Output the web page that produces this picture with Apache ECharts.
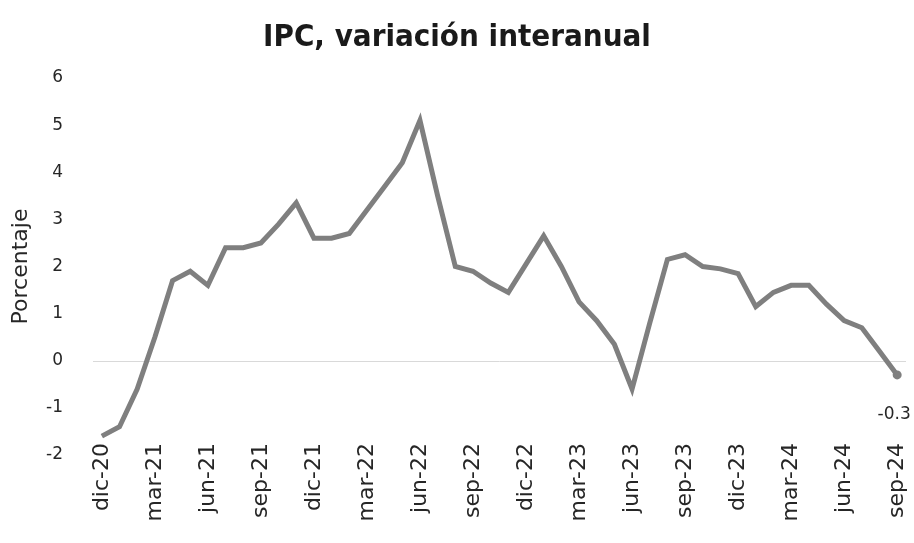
<!DOCTYPE html>
<html>
<head>
<meta charset="utf-8">
<script src="https://cdn.jsdelivr.net/npm/echarts@6/dist/echarts.min.js"></script>
<style>html,body{margin:0;padding:0;background:#fff;}#c{width:914px;height:543px;}</style>
</head>
<body>
<div id="c"></div>
<script>
var categories = ['dic-20','ene-21','feb-21','mar-21','abr-21','may-21','jun-21','jul-21','ago-21','sep-21','oct-21','nov-21',
  'dic-21','ene-22','feb-22','mar-22','abr-22','may-22','jun-22','jul-22','ago-22','sep-22','oct-22','nov-22',
  'dic-22','ene-23','feb-23','mar-23','abr-23','may-23','jun-23','jul-23','ago-23','sep-23','oct-23','nov-23',
  'dic-23','ene-24','feb-24','mar-24','abr-24','may-24','jun-24','jul-24','ago-24','sep-24'];
var ipcValues = [-1.6,-1.4,-0.6,0.5,1.7,1.9,1.6,2.4,2.4,2.5,2.9,3.35,
  2.6,2.6,2.7,3.2,3.7,4.2,5.1,3.5,2.0,1.9,1.65,1.45,
  2.05,2.65,2.0,1.25,0.85,0.35,-0.6,0.8,2.15,2.25,2.0,1.95,
  1.85,1.15,1.45,1.6,1.6,1.2,0.85,0.7,0.2,-0.3];
var yTicks = [-2,-1,0,1,2,3,4,5,6];
var titleText = 'IPC, variación interanual';
var yName = 'Porcentaje';

var lastIdx = ipcValues.length - 1;
var seriesData = ipcValues.map(function (v, i) {
  if (i === lastIdx) {
    return {
      value: v,
      symbol: 'circle',
      symbolSize: 9,
      label: {
        show: true,
        position: 'bottom',
        distance: 27,
        offset: [-3, 0],
        formatter: function (p) { return String(p.value); },
        fontFamily: 'DejaVu Sans',
        fontSize: 17,
        color: '#262626'
      }
    };
  }
  return { value: v, symbol: 'none' };
});

var chart = echarts.init(document.getElementById('c'), null, { renderer: 'canvas' });
chart.setOption({
  animation: false,
  backgroundColor: '#ffffff',
  title: {
    text: titleText,
    left: 'center',
    top: 17,
    textStyle: { fontFamily: 'DejaVu Sans Condensed', fontWeight: 'bold', fontSize: 31, color: '#1a1a1a' }
  },
  grid: { left: 93, right: 8, top: 78, bottom: 88, containLabel: false },
  xAxis: {
    type: 'category',
    data: categories,
    boundaryGap: true,
    axisLine: { show: false },
    axisTick: { show: false },
    axisLabel: {
      interval: 2,
      rotate: 90,
      margin: -12,
      fontFamily: 'DejaVu Sans',
      fontSize: 22,
      color: '#262626'
    },
    splitLine: { show: false }
  },
  yAxis: {
    type: 'value',
    min: yTicks[0],
    max: yTicks[yTicks.length - 1],
    interval: 1,
    name: yName,
    nameLocation: 'middle',
    nameGap: 61,
    nameRotate: 90,
    nameTextStyle: { fontFamily: 'DejaVu Sans', fontSize: 22, color: '#262626' },
    axisLine: { show: false },
    axisTick: { show: false },
    splitLine: { show: false },
    axisLabel: {
      margin: 30,
      fontFamily: 'DejaVu Sans',
      fontSize: 17,
      color: '#262626'
    }
  },
  series: [{
    type: 'line',
    data: seriesData,
    showSymbol: true,
    lineStyle: { color: '#7f7f7f', width: 5, join: 'miter' },
    itemStyle: { color: '#7f7f7f' },
    markLine: {
      silent: true,
      symbol: ['none', 'none'],
      label: { show: false },
      lineStyle: { color: '#d9d9d9', width: 1, type: 'solid' },
      data: [{ yAxis: 0 }],
      z: 1
    },
    z: 3
  }]
});
</script>
</body>
</html>
